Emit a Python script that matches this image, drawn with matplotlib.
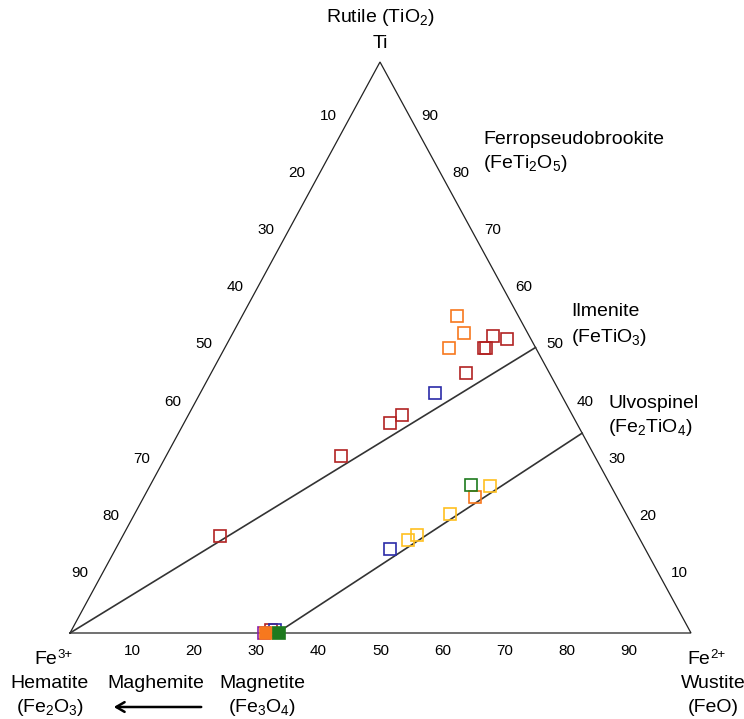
import numpy as np
import matplotlib
matplotlib.use('Agg')
import matplotlib.pyplot as plt

plt.rcParams['font.family'] = ['Liberation Sans', 'DejaVu Sans']
plt.rcParams['mathtext.fontset'] = 'custom'
plt.rcParams['mathtext.rm'] = 'Liberation Sans'
plt.rcParams['mathtext.it'] = 'Liberation Sans'

# --- data: compositions in percent (Ti, Fe2+), Fe3+ is the rest ---
red_ti = [52.1, 51.5, 49.9, 49.9, 45.6, 38.1, 36.7, 31.0, 17.0]
red_fe2 = [42.1, 44.6, 41.7, 42.1, 41.0, 34.5, 33.2, 28.1, 15.7]
orange_ti = [55.6, 52.6, 49.9, 23.8]
orange_fe2 = [34.5, 37.2, 36.1, 53.3]
blue_ti = [42.1, 14.7]
blue_fe2 = [37.7, 44.2]
green_ti = [25.9]
green_fe2 = [51.7]
yellow_ti = [25.7, 20.8, 17.1, 16.3]
yellow_fe2 = [54.8, 50.8, 47.3, 46.3]

# points sitting on the magnetite end of the bottom axis
base_open_ti = [0.0, 0.6, 0.5]
base_open_fe2 = [31.2, 32.1, 32.7]
base_open_col = ['#8B1FA8', '#B22222', '#2B2BA8']
base_fill_ti = [0.0, 0.0]
base_fill_fe2 = [31.5, 33.6]
base_fill_col = ['#F7781E', '#1E7A1E']

ticks = [10, 20, 30, 40, 50, 60, 70, 80, 90]
ilmenite_ti = 50.0
ulvospinel_ti = 35.0
magnetite_fe2 = 100.0 / 3

# triangle corners in pixel space (Fe3+, Fe2+, Ti)
L = np.array([70.0, 633.0])
R = np.array([691.0, 633.0])
T = np.array([380.0, 62.0])


def tern(ti, fe2):
    ti = np.asarray(ti, dtype=float) / 100.0
    fe2 = np.asarray(fe2, dtype=float) / 100.0
    fe3 = 1.0 - ti - fe2
    x = fe3 * L[0] + fe2 * R[0] + ti * T[0]
    y = fe3 * L[1] + fe2 * R[1] + ti * T[1]
    return x, y


fig = plt.figure(figsize=(7.44, 7.19), dpi=100)
ax = fig.add_axes([0, 0, 1, 1])
ax.set_xlim(0, 744)
ax.set_ylim(719, 0)
ax.axis('off')

# triangle outline
tx, ty = tern([0, 0, 100, 0], [0, 100, 0, 0])
ax.plot(tx, ty, color='#222222', lw=0.9, solid_joinstyle='miter')

# Fe3+ -> ilmenite, magnetite -> ulvospinel
lx, ly = tern([0, ilmenite_ti], [0, 100 - ilmenite_ti])
ax.plot(lx, ly, color='#333333', lw=1.2)
lx, ly = tern([0, ulvospinel_ti], [magnetite_fe2, 100 - ulvospinel_ti])
ax.plot(lx, ly, color='#333333', lw=1.2)

# tick labels
fs_tick = 11
for t in ticks:
    x, y = tern(0, t)
    ax.text(x, y + 18, str(t), ha='center', va='center', fontsize=fs_tick)
    x, y = tern(t, 100 - t)
    ax.text(x + 19, y - 3, str(t), ha='center', va='center', fontsize=fs_tick)
    x, y = tern(100 - t, 0)
    ax.text(x - 21, y - 3, str(t), ha='center', va='center', fontsize=fs_tick)

# markers
ms = 8.2
mew = 1.2


def sq(ti, fe2, col, filled=False):
    x, y = tern(ti, fe2)
    ax.plot(x, y, 's', ms=ms, mew=mew, mec=col,
            mfc=col if filled else 'none', ls='none')


sq(red_ti, red_fe2, '#B22222')
sq(orange_ti, orange_fe2, '#F7781E')
sq(blue_ti, blue_fe2, '#2B2BA8')
sq(green_ti, green_fe2, '#1E7A1E')
sq(yellow_ti, yellow_fe2, '#FFC020')
for ti, fe2, c in zip(base_open_ti, base_open_fe2, base_open_col):
    sq(ti, fe2, c)
for ti, fe2, c in zip(base_fill_ti, base_fill_fe2, base_fill_col):
    sq(ti, fe2, c, filled=True)

# mineral labels
fs = 14
fs_sup = 9.5


def ion(xc, y, charge):
    # "Fe" with a raised charge, centred as a whole on xc
    ax.text(xc + 2, y, 'Fe', ha='right', va='center', fontsize=fs)
    ax.text(xc + 2, y - 5, charge, ha='left', va='center', fontsize=fs_sup)


ax.text(380, 18, r'Rutile (TiO$_2$)', ha='center', va='center', fontsize=fs)
ax.text(380, 43, 'Ti', ha='center', va='center', fontsize=fs)
ax.text(483, 140, 'Ferropseudobrookite', ha='left', va='center', fontsize=fs)
ax.text(483, 163, r'(FeTi$_2$O$_5$)', ha='left', va='center', fontsize=fs)
ax.text(571, 312, 'Ilmenite', ha='left', va='center', fontsize=fs)
ax.text(571, 337, r'(FeTiO$_3$)', ha='left', va='center', fontsize=fs)
ax.text(608, 404, 'Ulvospinel', ha='left', va='center', fontsize=fs)
ax.text(608, 428, r'(Fe$_2$TiO$_4$)', ha='left', va='center', fontsize=fs)

ion(55, 660, '3+')
ax.text(50, 684, 'Hematite', ha='center', va='center', fontsize=fs)
ax.text(50, 707, r'(Fe$_2$O$_3$)', ha='center', va='center', fontsize=fs)
ax.text(156, 684, 'Maghemite', ha='center', va='center', fontsize=fs)
ax.text(262, 684, 'Magnetite', ha='center', va='center', fontsize=fs)
ax.text(262, 707, r'(Fe$_3$O$_4$)', ha='center', va='center', fontsize=fs)
ion(708, 660, '2+')
ax.text(713, 684, 'Wustite', ha='center', va='center', fontsize=fs)
ax.text(713, 707, '(FeO)', ha='center', va='center', fontsize=fs)

ax.annotate('', xy=(111, 707), xytext=(204, 707),
            arrowprops=dict(arrowstyle='->,head_length=0.6,head_width=0.35',
                            color='black', lw=1.8))

fig.savefig('out.png', dpi=100)
